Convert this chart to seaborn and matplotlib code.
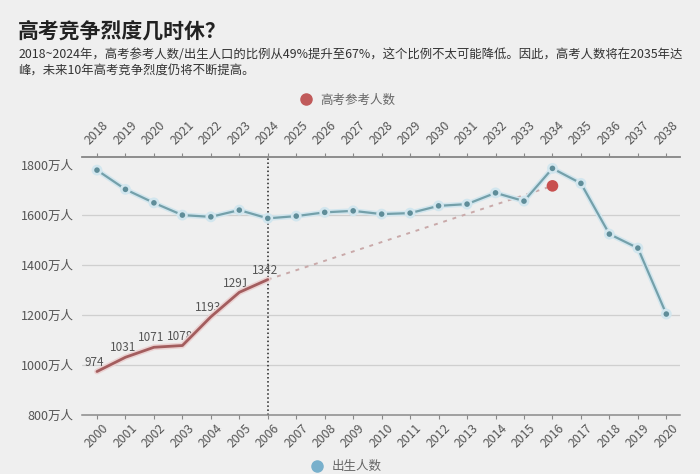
import numpy as np
import pandas as pd
import matplotlib.pyplot as plt
import seaborn as sns
import matplotlib.patheffects as pe
from matplotlib.lines import Line2D

# data
birth_years = list(range(2000, 2021))
exam_years = list(range(2018, 2039))
births = [1780, 1703, 1649, 1600, 1593, 1620, 1587, 1596, 1611, 1617, 1604,
          1608, 1637, 1644, 1689, 1656, 1787, 1727, 1524, 1468, 1204]
exam_takers = [974, 1031, 1071, 1078, 1193, 1291, 1342]
peak_year = 2034
peak_value = 1717
y_ticks = [800, 1000, 1200, 1400, 1600, 1800]

sns.set_style("white")
plt.rcParams['font.family'] = ['Noto Sans CJK SC', 'DejaVu Sans']

bg = '#efefef'
fig = plt.figure(figsize=(7, 4.74), dpi=100, facecolor=bg)
ax = fig.add_axes([0.117, 0.1245, 0.854, 0.544])
ax.set_facecolor(bg)

pos = np.arange(len(birth_years))
birth_df = pd.DataFrame({'pos': pos, 'births': births})
exam_df = pd.DataFrame({'pos': pos[:len(exam_takers)], 'exam': exam_takers})
peak_pos = exam_years.index(peak_year)
trend_df = pd.DataFrame({'pos': [exam_df['pos'].iloc[-1], peak_pos],
                         'val': [exam_takers[-1], peak_value]})

# births line (bottom axis years)
sns.lineplot(data=birth_df, x='pos', y='births', ax=ax, color='#74a0aa',
             linewidth=1.6, marker='o', markersize=4, markerfacecolor='#5f8d99',
             markeredgewidth=0, zorder=4,
             path_effects=[pe.Stroke(linewidth=3.8, foreground='#d2e6ee'), pe.Normal()])

# exam takers line (top axis years)
sns.lineplot(data=exam_df, x='pos', y='exam', ax=ax, color='#a35d5e',
             linewidth=2, zorder=4,
             path_effects=[pe.Stroke(linewidth=4.2, foreground='#ebd2d2'), pe.Normal()])

# projection to the peak
sns.lineplot(data=trend_df, x='pos', y='val', ax=ax, color='#c9a9a9',
             linewidth=1.4, linestyle=(0, (2, 3)), zorder=3)
sns.scatterplot(x=[peak_pos], y=[peak_value], ax=ax, color='#c8504f', s=70,
                edgecolor='none', zorder=5)

for x, v in zip(exam_df['pos'], exam_takers):
    ax.annotate(str(v), (x, v), xytext=(-2, 2), textcoords='offset points',
                ha='center', va='bottom', fontsize=8.5, color='#555555')

ax.axvline(6, color='#222222', linestyle=':', linewidth=1.1, zorder=2)

ax.set_xlim(-0.53, 20.47)
ax.set_ylim(800, 1832)
ax.set_yticks(y_ticks)
ax.set_yticklabels([f'{v}万人' for v in y_ticks], fontsize=9, color='#555555')
ax.tick_params(axis='y', length=0, pad=6)
ax.yaxis.grid(True, color='#cfcfcf', linewidth=0.9)
ax.get_ygridlines()[-1].set_visible(False)
ax.get_ygridlines()[0].set_visible(False)

ax.set_xticks(pos)
ax.set_xticklabels(birth_years, rotation=45, fontsize=8.8, color='#555555')
ax.tick_params(axis='x', length=3, color='#888888', direction='out', pad=2)
ax.set_xlabel('')
ax.set_ylabel('')

for s in ['left', 'right']:
    ax.spines[s].set_visible(False)
for s in ['top', 'bottom']:
    ax.spines[s].set_color('#8a8a8a')
    ax.spines[s].set_linewidth(1.1)

ax2 = ax.twiny()
ax2.set_xlim(ax.get_xlim())
ax2.set_xticks(pos)
ax2.set_xticklabels(exam_years, rotation=45, fontsize=8.8, color='#555555')
ax2.tick_params(axis='x', length=3, color='#888888', direction='out', pad=4)
for s in ['left', 'right', 'bottom']:
    ax2.spines[s].set_visible(False)
ax2.spines['top'].set_color('#8a8a8a')
ax2.spines['top'].set_linewidth(1.1)

fig.text(0.026, 0.935, '高考竞争烈度几时休？', fontsize=15, fontweight='bold',
         color='#222222', va='center')
fig.text(0.026, 0.886, '2018~2024年，高考参考人数/出生人口的比例从49%提升至67%，这个比例不太可能降低。因此，高考人数将在2035年达',
         fontsize=8.9, color='#333333', va='center')
fig.text(0.026, 0.850, '峰，未来10年高考竞争烈度仍将不断提高。',
         fontsize=8.9, color='#333333', va='center')

top_handle = [Line2D([], [], marker='o', linestyle='', color='#c05a5a', markersize=8,
                     label='高考参考人数')]
bot_handle = [Line2D([], [], marker='o', linestyle='', color='#78b0cc', markersize=8,
                     label='出生人数')]
leg1 = fig.legend(handles=top_handle, loc='center', bbox_to_anchor=(0.492, 0.789),
                  frameon=False, fontsize=9, handletextpad=0.2, labelcolor='#666666')
leg2 = fig.legend(handles=bot_handle, loc='center', bbox_to_anchor=(0.49, 0.015),
                  frameon=False, fontsize=9, handletextpad=0.2, labelcolor='#666666')

fig.savefig('out.png', dpi=100, facecolor=bg)
